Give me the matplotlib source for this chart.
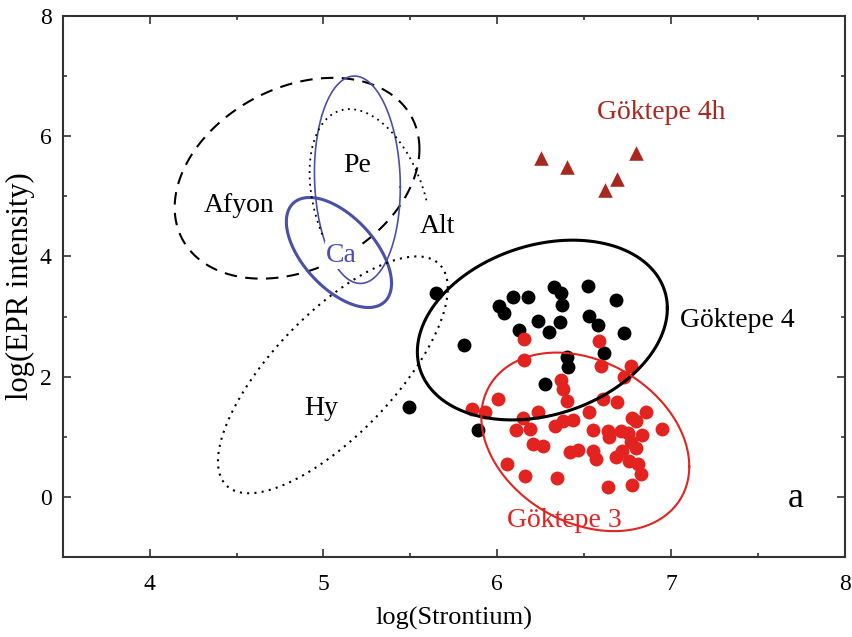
import numpy as np
import matplotlib
matplotlib.use("Agg")
import matplotlib.pyplot as plt

plt.rcParams["font.family"] = ["Liberation Serif", "DejaVu Serif"]

# Göktepe 4 samples (black)
g4_sr = [5.648, 5.810, 5.494, 5.887, 6.011, 6.036, 6.088, 6.174, 6.328, 6.366,
         6.372, 6.519, 6.682, 6.123, 6.236, 6.299, 6.362, 6.529, 6.577, 6.730,
         6.611, 6.400, 6.406, 6.272]
g4_epr = [3.39, 2.53, 1.50, 1.12, 3.17, 3.06, 3.32, 3.32, 3.49, 3.39,
          3.19, 3.50, 3.28, 2.78, 2.93, 2.75, 2.91, 3.01, 2.86, 2.73,
          2.40, 2.33, 2.16, 1.88]

# Göktepe 3 samples (red)
g3_sr = [6.151, 6.151, 6.586, 6.596, 6.768, 6.730, 6.366, 6.375, 6.006, 6.398,
         6.609, 6.691, 5.854, 5.931, 6.149, 6.236, 6.375, 6.433, 6.529, 6.773,
         6.853, 6.800, 6.107, 6.190, 6.333, 6.552, 6.634, 6.640, 6.711, 6.749,
         6.831, 6.950, 6.203, 6.261, 6.418, 6.462, 6.548, 6.567, 6.682, 6.720,
         6.768, 6.797, 6.759, 6.807, 6.826, 6.055, 6.161, 6.343, 6.634, 6.773]
g3_epr = [2.62, 2.27, 2.59, 2.17, 2.18, 2.00, 1.94, 1.79, 1.62, 1.59,
          1.62, 1.58, 1.46, 1.42, 1.32, 1.41, 1.27, 1.28, 1.41, 1.32,
          1.41, 1.27, 1.11, 1.13, 1.18, 1.12, 1.10, 1.00, 1.09, 1.06,
          1.03, 1.13, 0.88, 0.85, 0.74, 0.78, 0.77, 0.63, 0.66, 0.77,
          0.91, 0.81, 0.60, 0.54, 0.38, 0.55, 0.35, 0.31, 0.17, 0.20]

# Göktepe 4h samples (triangles)
g4h_sr = [6.25, 6.40, 6.62, 6.69, 6.80]
g4h_epr = [5.63, 5.48, 5.11, 5.28, 5.72]

# field ellipses: centre x, centre y, x half-range, y half-range, phase (deg)
ell_g4 = (6.259, 2.775, 0.719, 1.495, 76)
ell_g3 = (6.506, 0.915, 0.598, 1.485, 106)
ell_afyon = (4.848, 5.30, 0.704, 1.67, 73)
ell_pe = (5.195, 5.275, 0.247, 1.725, 94)
ell_ca = (5.089, 4.065, 0.3025, 0.915, 124)
ell_alt = (5.27, 4.85, 0.35, 1.60, 110)
ell_hy = (5.054, 2.03, 0.661, 1.97, 43)


def ellipse_xy(e, t0=0, t1=360, n=300):
    cx, cy, rx, ry, phi = e
    t = np.radians(np.linspace(t0, t1, n))
    return cx + rx * np.cos(t), cy + ry * np.cos(t - np.radians(phi))


fig = plt.figure(figsize=(8.52, 6.37), dpi=100)
ax = fig.add_axes([0.0736, 0.1256, 0.9182, 0.8494])

blue = "#4a4fa8"
red = "#e3231f"
darkred = "#a8281e"

ax.scatter(g4_sr, g4_epr, s=100, color="black", zorder=3, linewidths=0)
ax.scatter(g3_sr, g3_epr, s=100, color=red, zorder=3, linewidths=0)
ax.scatter(g4h_sr, g4h_epr, s=110, marker="^", color=darkred, zorder=3,
           linewidths=0)

ax.plot(*ellipse_xy(ell_g4), color="black", lw=2.2, zorder=4)
ax.plot(*ellipse_xy(ell_g3), color=red, lw=1.5, zorder=4)
ax.plot(*ellipse_xy(ell_afyon), color="black", lw=1.5, ls=(0, (6, 4)), zorder=2)
ax.plot(*ellipse_xy(ell_pe), color=blue, lw=1.2, zorder=2)
ax.plot(*ellipse_xy(ell_ca), color=blue, lw=2.2, zorder=2)
# Alt is only drawn as an open arc
ax.plot(*ellipse_xy(ell_alt, 23, 220), color="black", lw=1.3, ls=(0, (1, 2.5)),
        zorder=2)
ax.plot(*ellipse_xy(ell_hy), color="black", lw=1.5, ls=(0, (1, 2.5)), zorder=2)

fs = 20
ax.text(4.517, 4.85, "Afyon", fontsize=fs, ha="center", va="center")
ax.text(5.195, 5.52, "Pe", fontsize=fs, ha="center", va="center")
ax.text(5.103, 4.02, "Ca", fontsize=fs, ha="center", va="center", color=blue,
        bbox=dict(facecolor="white", edgecolor="none", pad=1), zorder=5)
ax.text(5.655, 4.50, "Alt", fontsize=fs, ha="center", va="center")
ax.text(4.989, 1.47, "Hy", fontsize=fs, ha="center", va="center")
ax.text(7.379, 2.93, "Göktepe 4", fontsize=fs, ha="center", va="center")
ax.text(6.943, 6.40, "Göktepe 4h", fontsize=fs, ha="center", va="center",
        color=darkred)
ax.text(6.385, -0.40, "Göktepe 3", fontsize=fs, ha="center", va="center",
        color=red)
ax.text(7.718, -0.02, "a", fontsize=26, ha="center", va="center")

ax.set_xlim(3.5, 8)
ax.set_ylim(-1, 8)
ax.set_xticks([4, 5, 6, 7, 8])
ax.set_xticks([4.5, 5.5, 6.5, 7.5], minor=True)
ax.set_yticks([0, 2, 4, 6, 8])
ax.set_yticks([1, 3, 5, 7], minor=True)
ax.tick_params(which="both", direction="in", top=True, right=True,
               labelsize=17, color="#333333", width=1.2)
ax.tick_params(which="major", length=6)
ax.tick_params(axis="x", which="major", pad=12)
ax.tick_params(axis="y", which="major", pad=8)
ax.tick_params(which="minor", length=3)
for sp in ax.spines.values():
    sp.set_color("#333333")
    sp.set_linewidth(1.5)

ax.set_xlabel("log(Strontium)", fontsize=19, labelpad=9)
ax.set_ylabel("log(EPR intensity)", fontsize=22)
ax.yaxis.set_label_coords(-0.036, 0.5)

fig.savefig("out.png", dpi=100)
